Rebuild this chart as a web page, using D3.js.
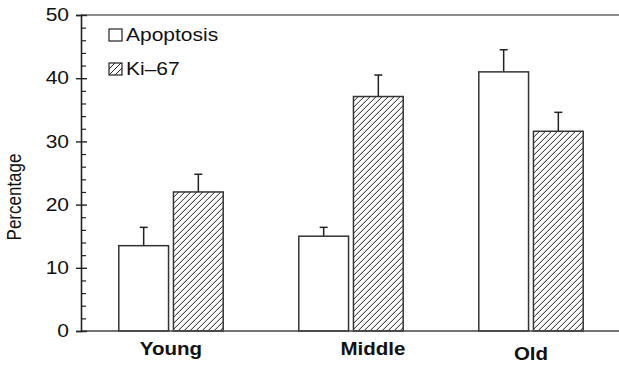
<!DOCTYPE html>
<html>
<head>
<meta charset="utf-8">
<script src="https://cdn.jsdelivr.net/npm/d3@7"></script>
<style>
  body { margin: 0; background: #fff; }
  text { font-family: "Liberation Sans", Arial, sans-serif; fill: #111; }
</style>
</head>
<body>
<svg id="chart" width="619" height="366"></svg>
<script>
// data
var groups = ["Young", "Middle", "Old"];
var series = ["Apoptosis", "Ki\u201367"];
var apoptosis = [13.5, 15.0, 41.0];
var apoptosisErr = [2.9, 1.4, 3.5];
var ki67 = [22.0, 37.1, 31.6];
var ki67Err = [2.8, 3.4, 3.0];
var yTicks = [0, 10, 20, 30, 40, 50];

var svg = d3.select("#chart");

var plotLeft = 81, plotRight = 621, plotTop = 15, plotBottom = 331;
var sx = 1.2; // the original figure text is stretched sideways

var x0 = d3.scaleBand()
    .domain(groups)
    .range([plotLeft, plotRight])
    .paddingInner(0.42)
    .paddingOuter(0.21);

var x1 = d3.scaleBand()
    .domain(series)
    .range([0, x0.bandwidth()])
    .paddingInner(0.09);

var y = d3.scaleLinear()
    .domain([0, 50])
    .range([plotBottom, plotTop]);

// hatch pattern
var defs = svg.append("defs");
defs.append("pattern")
    .attr("id", "hatch")
    .attr("patternUnits", "userSpaceOnUse")
    .attr("width", 6)
    .attr("height", 6)
  .append("path")
    .attr("d", "M-1,1 l2,-2 M0,6 l6,-6 M5,7 l2,-2")
    .attr("stroke", "#222")
    .attr("stroke-width", 1);

var rows = groups.map(function(g, i) {
    return [
        { group: g, key: series[0], value: apoptosis[i], err: apoptosisErr[i] },
        { group: g, key: series[1], value: ki67[i], err: ki67Err[i] }
    ];
});

function fillOf(d) { return d.key === series[0] ? "#fff" : "url(#hatch)"; }

// top frame line
svg.append("line")
    .attr("x1", plotLeft).attr("x2", 619)
    .attr("y1", y(50)).attr("y2", y(50))
    .attr("stroke", "#666").attr("stroke-width", 1.3);

// bars
var g = svg.selectAll("g.grp")
    .data(rows)
    .enter().append("g")
    .attr("class", "grp")
    .attr("transform", function(d) { return "translate(" + x0(d[0].group) + ",0)"; });

// error bars (upper only)
g.selectAll("g.err")
    .data(function(d) { return d; })
    .enter().append("g")
    .attr("class", "err")
    .each(function(d) {
        var cx = x1(d.key) + x1.bandwidth() / 2;
        var e = d3.select(this);
        e.append("line")
            .attr("x1", cx).attr("x2", cx)
            .attr("y1", y(d.value)).attr("y2", y(d.value + d.err))
            .attr("stroke", "#222").attr("stroke-width", 1.5);
        e.append("line")
            .attr("x1", cx - 4).attr("x2", cx + 4)
            .attr("y1", y(d.value + d.err)).attr("y2", y(d.value + d.err))
            .attr("stroke", "#222").attr("stroke-width", 1.5);
    });

g.selectAll("rect")
    .data(function(d) { return d; })
    .enter().append("rect")
    .attr("x", function(d) { return x1(d.key); })
    .attr("width", x1.bandwidth())
    .attr("y", function(d) { return y(d.value); })
    .attr("height", function(d) { return y(0) - y(d.value); })
    .attr("fill", fillOf)
    .attr("stroke", "#333")
    .attr("stroke-width", 1.5);

// x baseline
svg.append("line")
    .attr("x1", plotLeft).attr("x2", 619)
    .attr("y1", y(0)).attr("y2", y(0))
    .attr("stroke", "#444").attr("stroke-width", 1.3);

// y axis: major ticks crossing, minor ticks inside
var minor = d3.range(0, 51, 2).filter(function(v) { return v % 10 !== 0; });

svg.append("g")
    .attr("class", "myYaxis")
    .attr("transform", "translate(" + plotLeft + ",0)")
    .call(d3.axisLeft(y).tickValues(yTicks).tickSize(5).tickPadding(7).tickFormat(d3.format("d")))
    .call(function(a) {
        a.select(".domain").attr("stroke", "#222").attr("stroke-width", 1.6);
        a.selectAll(".tick line").attr("stroke", "#222").attr("stroke-width", 1.4);
        a.selectAll(".tick text")
            .attr("font-size", 17.5)
            .attr("font-family", "Liberation Sans, Arial, sans-serif")
            .attr("fill", "#111")
            .each(function() {
                var t = d3.select(this);
                t.attr("transform", "translate(" + t.attr("x") + ",0) scale(" + sx + ",1) translate(" + (-t.attr("x")) + ",0)");
            });
    });

svg.append("g")
    .attr("transform", "translate(" + plotLeft + ",0)")
    .call(d3.axisRight(y).tickValues(yTicks).tickSize(6).tickFormat(""))
    .call(function(a) {
        a.select(".domain").remove();
        a.selectAll(".tick line").attr("stroke", "#222").attr("stroke-width", 1.4);
    });

svg.append("g")
    .attr("transform", "translate(" + plotLeft + ",0)")
    .call(d3.axisRight(y).tickValues(minor).tickSize(5).tickFormat(""))
    .call(function(a) {
        a.select(".domain").remove();
        a.selectAll(".tick line").attr("stroke", "#222").attr("stroke-width", 1.2);
    });

// y label
svg.append("text")
    .attr("transform", "translate(21,197) scale(" + sx + ",1) rotate(-90)")
    .attr("text-anchor", "middle")
    .attr("font-size", 17)
    .text("Percentage");

// category labels
var labelShift = { Young: [0, 0], Middle: [22, 0], Old: [0, 5] };
svg.selectAll("text.cat")
    .data(groups)
    .enter().append("text")
    .attr("class", "cat")
    .attr("transform", function(d) {
        var cx = x0(d) + x0.bandwidth() / 2 + labelShift[d][0];
        return "translate(" + cx + "," + (355 + labelShift[d][1]) + ") scale(1.08,1)";
    })
    .attr("text-anchor", "middle")
    .attr("font-size", 19)
    .attr("font-weight", "bold")
    .text(function(d) { return d; });

// legend
var legend = svg.selectAll("g.legend")
    .data(series)
    .enter().append("g")
    .attr("class", "legend")
    .attr("transform", function(d, i) { return "translate(109," + (29 + i * 34) + ")"; });

legend.append("rect")
    .attr("width", 13)
    .attr("height", 12)
    .attr("fill", function(d) { return fillOf({ key: d }); })
    .attr("stroke", "#222")
    .attr("stroke-width", 1.2);

legend.append("text")
    .attr("transform", "translate(17,11.5) scale(" + sx + ",1)")
    .attr("font-size", 17.5)
    .text(function(d) { return d; });
</script>
</body>
</html>
